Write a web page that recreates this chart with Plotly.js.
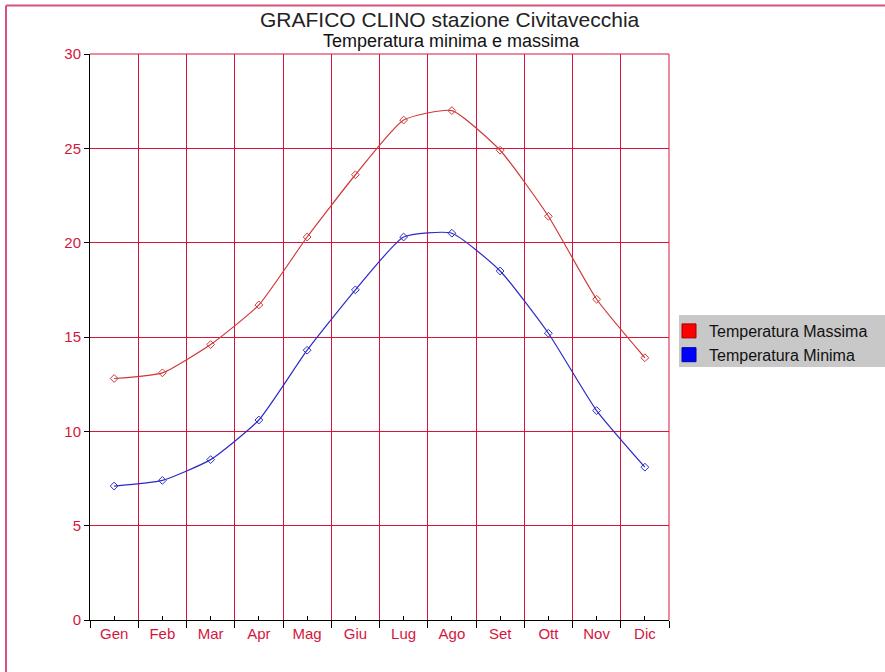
<!DOCTYPE html>
<html>
<head>
<meta charset="utf-8">
<script src="https://cdn.plot.ly/plotly-3.0.1.min.js"></script>
<style>
html,body{margin:0;padding:0;background:#fff;}
#chart{width:885px;height:672px;}
</style>
</head>
<body>
<div id="chart"></div>
<script>
const months = ["Gen","Feb","Mar","Apr","Mag","Giu","Lug","Ago","Set","Ott","Nov","Dic"];
const tempMax = [12.8, 13.1, 14.6, 16.7, 20.3, 23.6, 26.5, 27.0, 24.9, 21.4, 17.0, 13.9];
const tempMin = [7.1, 7.4, 8.5, 10.6, 14.3, 17.5, 20.3, 20.5, 18.5, 15.2, 11.1, 8.1];
const yTicks = [0, 5, 10, 15, 20, 25, 30];
const seriesNames = ["Temperatura Massima", "Temperatura Minima"];

const crimson = "#d4163e";
const L = 90, R = 669, T = 54, B = 620, W = 885, H = 672;
const pw = R - L, ph = B - T;
const px = x => (x - L) / pw;
const py = y => (B - y) / ph;

const traces = [
  {x: months, y: tempMax, type: "scatter", mode: "lines+markers", name: seriesNames[0], showlegend: false,
   line: {color: "#d03838", width: 1.2, shape: "spline", smoothing: 0.5},
   marker: {symbol: "diamond-open", size: 6, color: "#d03838", line: {width: 1}}},
  {x: months, y: tempMin, type: "scatter", mode: "lines+markers", name: seriesNames[1], showlegend: false,
   line: {color: "#2a2ac8", width: 1.2, shape: "spline", smoothing: 0.5},
   marker: {symbol: "diamond-open", size: 6, color: "#2a2ac8", line: {width: 1}}},
  {x: [null], y: [null], type: "scatter", mode: "markers", name: seriesNames[0], showlegend: true,
   marker: {symbol: "square", size: 14, color: "#ff0000", line: {color: "#a00000", width: 1}}},
  {x: [null], y: [null], type: "scatter", mode: "markers", name: seriesNames[1], showlegend: true,
   marker: {symbol: "square", size: 14, color: "#0000ff", line: {color: "#0000a0", width: 1}}},
  {x: [0], y: [0], xaxis: "x2", yaxis: "y", type: "scatter", mode: "markers", showlegend: false,
   hoverinfo: "skip", marker: {opacity: 0}}
];

const layout = {
  width: W, height: H,
  paper_bgcolor: "#fff", plot_bgcolor: "#fff",
  margin: {l: L, r: W - R, t: T, b: H - B, pad: 0},
  font: {family: "Liberation Sans, Arial, sans-serif", color: crimson},
  xaxis: {
    type: "category", categoryorder: "array", categoryarray: months,
    range: [-0.5, 11.5], tickson: "boundaries",
    showgrid: true, gridcolor: crimson, gridwidth: 1,
    showline: true, linecolor: "#000", linewidth: 1,
    ticks: "outside", ticklen: 7, tickcolor: "#000", tickwidth: 1,
    tickfont: {size: 15, color: crimson}, zeroline: false, fixedrange: true
  },
  xaxis2: {
    overlaying: "x", anchor: "y", range: [-0.5, 11.5],
    tickvals: [0,1,2,3,4,5,6,7,8,9,10,11], ticks: "inside", ticklen: 4,
    tickcolor: "#000", showticklabels: false, showgrid: false, zeroline: false, showline: false
  },
  yaxis: {
    range: [0, 30], tickvals: yTicks, ticktext: yTicks.map(String),
    showgrid: true, gridcolor: crimson, gridwidth: 1,
    showline: true, linecolor: "#000", linewidth: 1,
    ticks: "outside", ticklen: 5, tickcolor: "#000",
    tickfont: {size: 15, color: crimson}, zeroline: false, fixedrange: true
  },
  legend: {
    x: px(669), y: py(314), xanchor: "left", yanchor: "top",
    bgcolor: "rgba(0,0,0,0)", borderwidth: 0,
    font: {size: 16, color: "#111"}, itemwidth: 30, tracegroupgap: 0
  },
  annotations: [
    {text: "GRAFICO CLINO stazione Civitavecchia", xref: "paper", yref: "paper",
     x: px(450), y: py(19), xanchor: "center", yanchor: "middle", showarrow: false,
     font: {size: 21, color: "#222"}},
    {text: "Temperatura minima e massima", xref: "paper", yref: "paper",
     x: px(451), y: py(41), xanchor: "center", yanchor: "middle", showarrow: false,
     font: {size: 18, color: "#111"}}
  ],
  shapes: [
    {type: "rect", xref: "paper", yref: "paper", x0: px(679), x1: px(885), y0: py(315), y1: py(367),
     fillcolor: "#c8c8c8", line: {width: 0}, layer: "below"},
    {type: "line", xref: "paper", yref: "paper", x0: px(6), x1: px(6), y0: py(5.5), y1: py(680),
     line: {color: "#d4557a", width: 2}},
    {type: "line", xref: "paper", yref: "paper", x0: px(6), x1: px(890), y0: py(5.5), y1: py(5.5),
     line: {color: "#d4557a", width: 2}},
    {type: "line", xref: "paper", yref: "paper", x0: 1, x1: 1, y0: 0, y1: 1,
     line: {color: crimson, width: 1}},
    {type: "line", xref: "paper", yref: "paper", x0: 0, x1: 1, y0: 1, y1: 1,
     line: {color: crimson, width: 1}}
  ]
};

Plotly.newPlot("chart", traces, layout, {displayModeBar: false, staticPlot: true});
</script>
</body>
</html>
